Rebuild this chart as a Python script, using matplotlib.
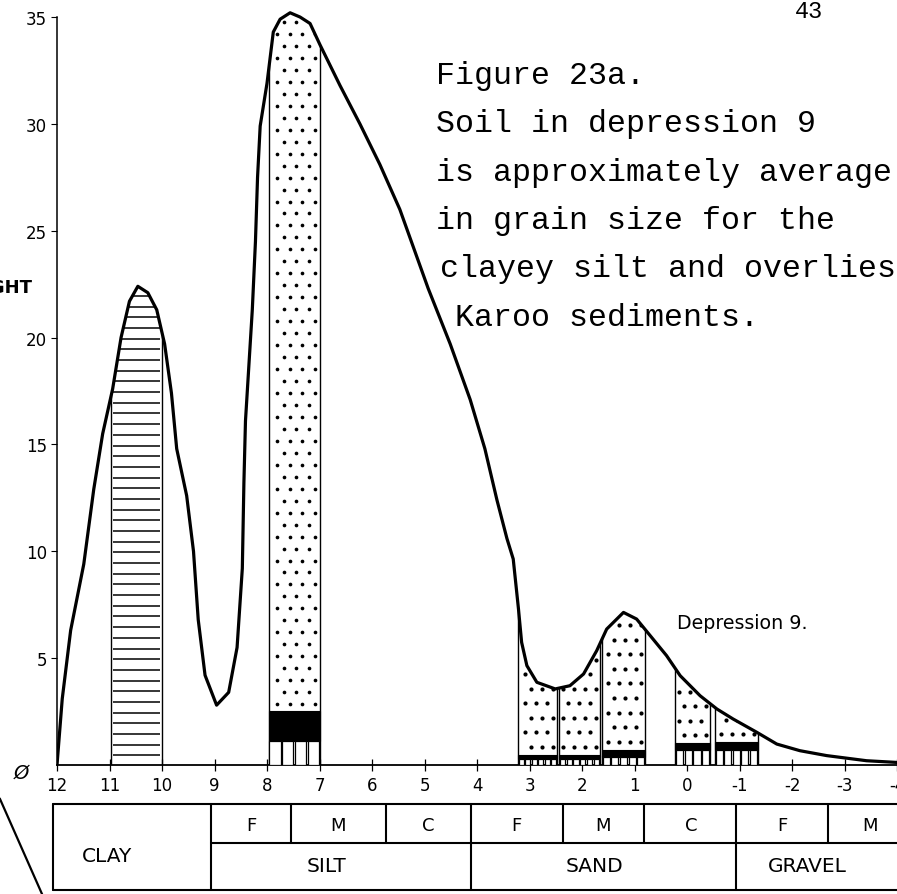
import matplotlib
matplotlib.use("Agg")
import matplotlib.pyplot as plt
from matplotlib.patches import Polygon, Rectangle
from matplotlib.lines import Line2D

# grain-size distribution curve, depression 9 (phi units vs weight %)
phi = [12.0, 11.9, 11.74, 11.49, 11.3, 11.13, 10.94, 10.78, 10.62, 10.46,
       10.27, 10.1, 9.95, 9.82, 9.72, 9.53, 9.4, 9.31, 9.18, 8.96,
       8.73, 8.57, 8.47, 8.44, 8.41, 8.28, 8.22, 8.18, 8.13, 8.0,
       7.88, 7.75, 7.56, 7.37, 7.18, 6.99, 6.61, 6.23, 5.85, 5.47,
       4.93, 4.51, 4.13, 3.85, 3.62, 3.43, 3.31, 3.21, 3.15, 3.05,
       2.86, 2.51, 2.23, 1.97, 1.72, 1.53, 1.21, 0.96, 0.70, 0.39,
       0.13, -0.25, -0.57, -0.88, -1.33, -1.71, -2.15, -2.66, -3.42, -4.0]
weight = [0.0, 3.1, 6.3, 9.4, 12.9, 15.5, 17.6, 20.0, 21.7, 22.4,
          22.1, 21.3, 19.7, 17.4, 14.8, 12.6, 10.0, 6.8, 4.2, 2.8,
          3.4, 5.5, 9.2, 13.2, 16.1, 21.3, 24.5, 27.5, 29.9, 31.9,
          34.3, 34.9, 35.2, 35.0, 34.7, 33.7, 31.8, 30.0, 28.1, 26.0,
          22.3, 19.7, 17.1, 14.8, 12.4, 10.6, 9.64, 7.3, 5.74, 4.65,
          3.87, 3.56, 3.71, 4.26, 5.35, 6.36, 7.14, 6.83, 6.05, 5.12,
          4.18, 3.24, 2.62, 2.15, 1.53, 0.98, 0.67, 0.44, 0.20, 0.12]

y_ticks = [5, 10, 15, 20, 25, 30, 35]
x_ticks = [12, 11, 10, 9, 8, 7, 6, 5, 4, 3, 2, 1, 0, -1, -2, -3, -4]

# clay column (horizontal ruling)
clay_edges = (10.97, 10.0)

# stippled columns: edges, black band and open cells at the base
bar_left = [7.97, 3.22, 2.44, 1.62, 0.23, -0.53]
bar_right = [7.0, 2.48, 1.66, 0.80, -0.44, -1.35]
band_top = [2.54, 0.47, 0.47, 0.72, 1.02, 1.06]
band_bottom = [1.14, 0.26, 0.26, 0.38, 0.72, 0.72]
n_cells = [4, 6, 6, 5, 4, 5]

# classification table under the axis
size_bounds = [9.06, 4.12, -0.94]           # clay|silt, silt|sand, sand|gravel
sub_bounds = [7.55, 5.74, 2.36, 0.82, -2.69]
sub_labels = ["F", "M", "C", "F", "M", "C", "F", "M"]
sub_label_x = [8.3, 6.65, 4.93, 3.25, 1.6, -0.08, -1.82, -3.49]
class_labels = ["CLAY", "SILT", "SAND", "GRAVEL"]
class_label_x = [11.05, 6.86, 1.77, -2.3]

caption = ["Figure 23a.",
           "Soil in depression 9",
           "is approximately average",
           "in grain size for the",
           "clayey silt and overlies",
           " Karoo sediments."]
caption_x = [436, 436, 436, 436, 440, 436]

W, H = 897, 895
PX_PER_UNIT = 21.37


def fx(px):
    return px / W


def fy(py):
    return 1 - py / H


def stipple(ax, x0, x1, y0, y1, dx, dy, size, clip):
    lo, hi = min(x0, x1), max(x0, x1)
    xs, ys = [], []
    row = 0
    y = y0 + dy * 0.55
    while y < y1:
        x = lo + (dx * 0.35 if row % 2 == 0 else dx * 0.85)
        while x < hi - dx * 0.2:
            xs.append(x)
            ys.append(y)
            x += dx
        y += dy
        row += 1
    sc = ax.scatter(xs, ys, s=size, color="black", linewidths=0, zorder=3)
    sc.set_clip_path(clip)


fig = plt.figure(figsize=(8.97, 8.95), dpi=100)
ax = fig.add_axes([fx(57), fy(766), (W - 57) / W, 766 / H])
ax.set_xlim(12, -4)
ax.set_ylim(0, 766 / PX_PER_UNIT)

# area under the curve, used to clip the column patterns
under = Polygon(list(zip(phi, weight)) + [(-4, 0), (12, 0)], closed=True,
                transform=ax.transData)

# clay column
hatch_y = [0.45 + 0.5 * k for k in range(46)]
hl = ax.hlines(hatch_y, clay_edges[0] - 0.03, clay_edges[1] + 0.03,
               color="black", lw=1.1, zorder=2)
hl.set_clip_path(under)
for e in clay_edges:
    ln, = ax.plot([e, e], [0, 40], color="black", lw=1.0, zorder=2)
    ln.set_clip_path(under)

# stippled columns with black band and open cells at the base
for i in range(len(bar_left)):
    l, r = bar_left[i], bar_right[i]
    rect = Rectangle((r, 0), l - r, 40, fill=False, edgecolor="black",
                     lw=1.0, zorder=3)
    ax.add_patch(rect)
    rect.set_clip_path(under)
    if i == 0:
        stipple(ax, l, r, band_top[i], 36, 0.24, 0.56, 7, under)
    else:
        stipple(ax, l, r, band_top[i], 10, 0.21, 0.68, 9, under)
    ax.add_patch(Rectangle((r, band_bottom[i]), l - r,
                           band_top[i] - band_bottom[i],
                           facecolor="black", edgecolor="black", lw=0.8,
                           zorder=3))
    w = (l - r) / n_cells[i]
    for k in range(n_cells[i]):
        ax.add_patch(Rectangle((r + k * w + 0.015, 0), w - 0.03,
                               band_bottom[i], facecolor="white",
                               edgecolor="black", lw=0.9, zorder=3))

ax.plot(phi, weight, color="black", lw=2.3, solid_joinstyle="round",
        solid_capstyle="round", zorder=5)

ax.text(0.2, 6.65, "Depression 9.", fontsize=13.7, ha="left", va="center")

# axes
for side in ("top", "right"):
    ax.spines[side].set_visible(False)
ax.spines["left"].set_bounds(0, 35)
ax.spines["left"].set_linewidth(1.1)
ax.spines["bottom"].set_linewidth(1.3)
ax.set_yticks(y_ticks)
ax.set_yticklabels([str(v) for v in y_ticks], fontsize=12)
ax.set_xticks(x_ticks)
ax.set_xticklabels([str(v) for v in x_ticks], fontsize=12)
ax.tick_params(axis="y", direction="out", length=4, width=0.8, pad=3)
ax.tick_params(axis="x", direction="inout", length=8, width=0.9, pad=4)

fig.text(fx(32), fy(288), "WEIGHT", fontsize=13, fontweight="bold",
         ha="right", va="center")
fig.text(fx(21), fy(773), "\u00d8", fontsize=14, style="italic",
         ha="center", va="center")
fig.add_artist(Line2D([fx(0), fx(42)], [fy(800), fy(895)], color="black",
                      lw=1.6))

# page number and caption
fig.text(fx(795), fy(11), "43", fontsize=17, family="Liberation Mono",
         ha="left", va="center")
for j, line in enumerate(caption):
    fig.text(fx(caption_x[j]), fy(76 + 48.3 * j), line, fontsize=22.8,
             family="Liberation Mono", ha="left", va="center")

# grain-size classification table
tb = fig.add_axes([fx(57), fy(891), (W - 57) / W, 86 / H])
tb.set_xlim(12, -4)
tb.set_ylim(0, 86)
tb.axis("off")
kw = dict(color="black", lw=1.5, clip_on=False, solid_capstyle="round")
x_left = 12.08
tb.plot([x_left, -4.2], [86, 86], **kw)
tb.plot([x_left, -4.2], [0, 0], **kw)
tb.plot([x_left, x_left], [0, 86], **kw)
tb.plot([size_bounds[0], -4.2], [47, 47], **kw)
for b in size_bounds:
    tb.plot([b, b], [0, 86], **kw)
for b in sub_bounds:
    tb.plot([b, b], [47, 86], **kw)
for lab, x in zip(sub_labels, sub_label_x):
    tb.text(x, 65, lab, fontsize=13, ha="center", va="center")
for lab, x in zip(class_labels, class_label_x):
    y = 34 if lab == "CLAY" else 24
    tb.text(x, y, lab, fontsize=14.5, ha="center", va="center")

fig.savefig("out.png", dpi=100)
